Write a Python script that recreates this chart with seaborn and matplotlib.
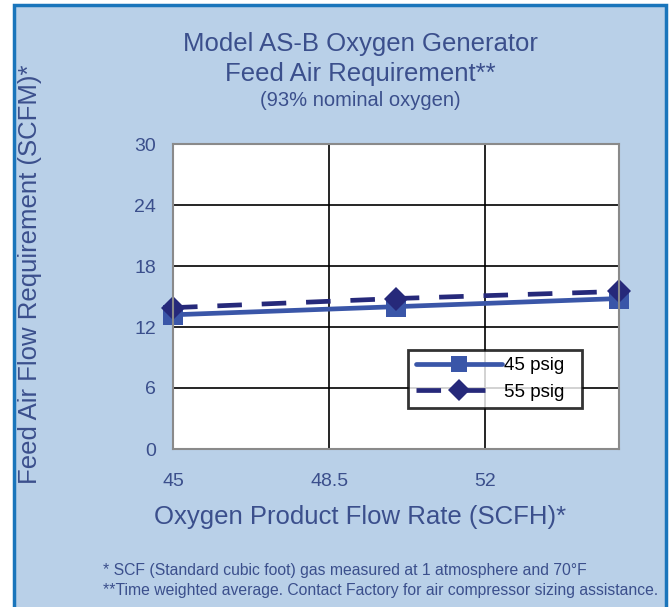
import numpy as np
import pandas as pd
import matplotlib
matplotlib.use("Agg")
import matplotlib.pyplot as plt
import seaborn as sns
from matplotlib.patches import Rectangle

# data
flow_rate = [45, 50, 55]
feed_45 = [13.2, 14.0, 14.8]
feed_55 = [13.9, 14.8, 15.5]
series_names = ["45 psig", "55 psig"]
x_ticks = [45, 48.5, 52]
y_ticks = [0, 6, 12, 18, 24, 30]

df = pd.DataFrame({
    "flow": flow_rate * 2,
    "feed": feed_45 + feed_55,
    "series": [series_names[0]] * 3 + [series_names[1]] * 3,
})

BG = "#b9d0e8"
TXT = "#3b4f8c"
C45 = "#3a56a8"
C55 = "#26297a"

sns.set_theme(style="white")
plt.rcParams["font.family"] = ["Liberation Sans", "DejaVu Sans"]

fig = plt.figure(figsize=(6.71, 6.07), dpi=100, facecolor="white")
# blue panel with border (bottom edge runs off the image)
fig.add_artist(Rectangle((14 / 671, -0.02), 652 / 671, 1.02 - 5 / 607, transform=fig.transFigure,
                         facecolor=BG, edgecolor="#1a75bb", linewidth=2.5, zorder=-10))

ax = fig.add_axes([173 / 671, 1 - 449 / 607, 446 / 671, 305 / 607])
ax.set_facecolor("white")

sns.lineplot(data=df, x="flow", y="feed", hue="series", style="series",
             palette=[C45, C55], markers=["s", "D"], dashes=[(None, None), (5.2, 4.2)],
             linewidth=3.4, markersize=13, markeredgewidth=0, ax=ax, clip_on=False)
ax.lines[0].set_markersize(14.5)
ax.lines[1].set_markersize(12)

ax.set_xlim(45, 55)
ax.set_ylim(0, 30)
ax.set_xticks(x_ticks)
ax.set_xticklabels(["45", "48.5", "52"])
ax.set_yticks(y_ticks)
ax.tick_params(axis="both", colors=TXT, labelsize=14, length=0)
ax.tick_params(axis="x", pad=17)
ax.tick_params(axis="y", pad=12)
for t in ax.get_xticklabels() + ax.get_yticklabels():
    t.set_color(TXT)
ax.grid(True, color="black", linewidth=1.2)
for s in ax.spines.values():
    s.set_color("#8a8a8a")
    s.set_linewidth(1.5)

ax.set_xlabel("")
ax.set_ylabel("")
fig.text(360 / 671, 1 - 517 / 607, "Oxygen Product Flow Rate (SCFH)*", ha="center", va="center",
         color=TXT, fontsize=18.5)
fig.text(30 / 671, 1 - 274 / 607, "Feed Air Flow Requirement (SCFM)*", rotation=90,
         ha="center", va="center", color=TXT, fontsize=18.5)

fig.text(360 / 671, 1 - 44 / 607, "Model AS-B Oxygen Generator", ha="center", va="center",
         color=TXT, fontsize=18.5)
fig.text(360 / 671, 1 - 74 / 607, "Feed Air Requirement**", ha="center", va="center",
         color=TXT, fontsize=18.5)
fig.text(360 / 671, 1 - 101 / 607, "(93% nominal oxygen)", ha="center", va="center",
         color=TXT, fontsize=14.5)

fig.text(103 / 671, 1 - 570 / 607, "* SCF (Standard cubic foot) gas measured at 1 atmosphere and 70°F",
         ha="left", va="center", color=TXT, fontsize=11.3)
fig.text(103 / 671, 1 - 590 / 607, "**Time weighted average. Contact Factory for air compressor sizing assistance.",
         ha="left", va="center", color=TXT, fontsize=11.3)

leg = ax.legend(loc="lower left", bbox_to_anchor=(0.527, 0.134, 0.39, 0.186), mode="expand",
                fontsize=13.5, frameon=True, fancybox=False, handlelength=4.6,
                handletextpad=0.1, borderpad=0.4, labelspacing=0.5, borderaxespad=0)
leg.get_frame().set_edgecolor("black")
leg.get_frame().set_linewidth(2)
for h in leg.legend_handles:
    h.set_markersize(11)
for t in leg.get_texts():
    t.set_color("black")

fig.savefig("out.png", dpi=100, facecolor="white")
